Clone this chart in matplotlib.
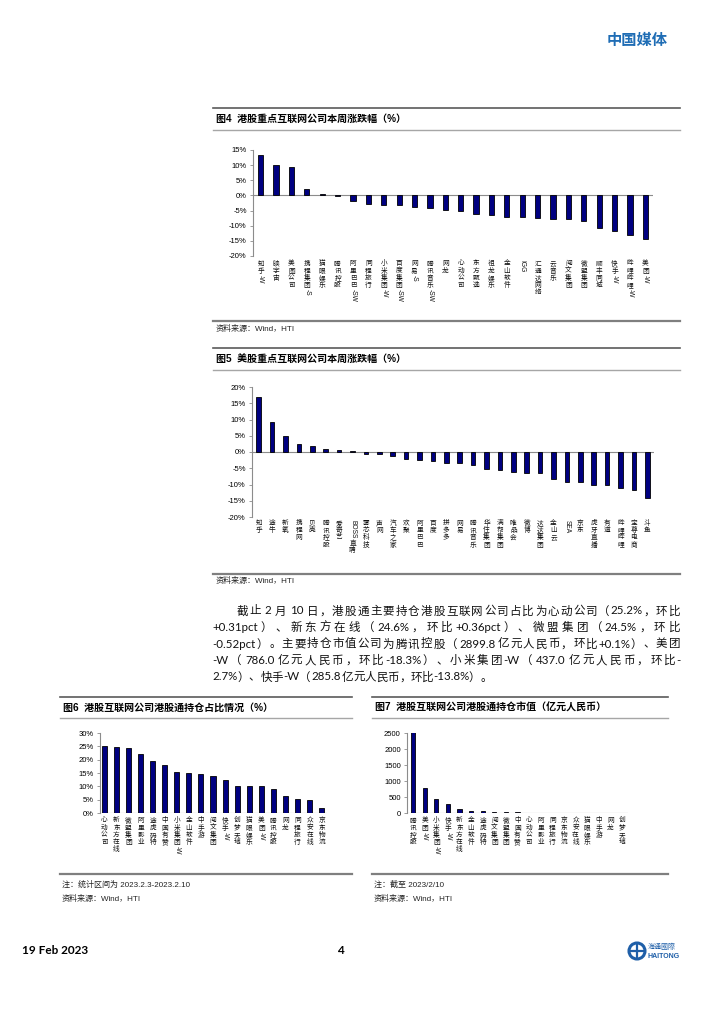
import re
import matplotlib
matplotlib.use("Agg")
import matplotlib.pyplot as plt
from matplotlib.transforms import blended_transform_factory
from matplotlib.textpath import TextPath
from matplotlib.font_manager import FontProperties
from matplotlib.patches import Circle

# ---------------- data ----------------
hk_names = ["知乎-W", "映宇宙", "美图公司", "携程集团-S", "猫眼娱乐", "腾讯控股", "阿里巴巴-SW",
            "同程旅行", "小米集团-W", "百度集团-SW", "网易-S", "腾讯音乐-SW", "网龙", "心动公司",
            "东方甄选", "祖龙娱乐", "金山软件", "IGG", "汇通达网络", "云音乐", "阅文集团", "微盟集团",
            "顺丰同城", "快手-W", "哔哩哔哩-W", "美团-W"]
hk_chg = [13.5, 10.0, 9.5, 2.0, 0.5, -0.3, -1.8, -2.7, -3.0, -3.1, -3.8, -4.0, -4.8, -5.0, -6.0,
          -6.4, -7.0, -7.0, -7.4, -7.9, -7.9, -8.6, -10.6, -11.6, -13.0, -14.5]

us_names = ["知乎", "途牛", "新氧", "携程网", "贝壳", "腾讯控股", "爱奇艺", "BOSS直聘", "雾芯科技", "声网",
            "汽车之家", "欢聚", "阿里巴巴", "百度", "拼多多", "网易", "腾讯音乐", "华住集团", "满帮集团",
            "唯品会", "微博", "达达集团", "金山云", "SEA", "京东", "虎牙直播", "有道", "哔哩哔哩",
            "宝尊电商", "斗鱼"]
us_chg = [16.8, 9.3, 5.0, 2.5, 1.7, 0.8, 0.6, 0.2, -0.5, -0.5, -1.3, -2.0, -2.6, -2.9, -3.4, -3.5,
          -3.9, -5.2, -5.6, -6.0, -6.4, -6.6, -8.4, -9.2, -9.3, -10.1, -10.1, -11.2, -11.8, -14.3]

share_names = ["心动公司", "新东方在线", "微盟集团", "阿里影业", "途虎码特", "中国有赞", "小米集团-W",
               "金山软件", "中手游", "阅文集团", "快手-W", "创梦天地", "猫眼娱乐", "美团-W", "腾讯控股",
               "网龙", "同程旅行", "众安在线", "京东物流"]
share_pct = [25.2, 24.6, 24.5, 22.0, 19.5, 18.0, 15.5, 15.0, 14.6, 13.8, 12.5, 10.2, 10.2, 10.0,
             9.0, 6.2, 5.1, 4.7, 1.9]

value_names = ["腾讯控股", "美团-W", "小米集团-W", "快手-W", "新东方在线", "金山软件", "途虎码特",
               "阅文集团", "微盟集团", "中国有赞", "心动公司", "阿里影业", "同程旅行", "京东物流",
               "众安在线", "猫眼娱乐", "中手游", "网龙", "创梦天地"]
value_bn = [2899.8, 786.0, 437.0, 285.8, 140.0, 60.0, 55.0, 45.0, 40.0, 35.0, 10.0, 8.0, 7.0, 6.0,
            5.0, 5.0, 4.0, 3.0, 3.0]

para_lines = [
    "截止 2 月 10 日，港股通主要持仓港股互联网公司占比为心动公司（25.2%，环比",
    "+0.31pct）、新东方在线（24.6%，环比+0.36pct）、微盟集团（24.5%，环比",
    "-0.52pct）。主要持仓市值公司为腾讯控股（2899.8 亿元人民币，环比+0.1%）、美团",
    "-W（786.0 亿元人民币，环比-18.3%）、小米集团-W（437.0 亿元人民币，环比-",
    "2.7%）、快手-W（285.8 亿元人民币，环比-13.8%）。",
]

# ---------------- setup ----------------
W, H = 725, 1024
CJK = "Noto Sans CJK SC"
LAT = "Liberation Sans"
plt.rcParams['font.family'] = [LAT, CJK]
fig = plt.figure(figsize=(W / 100, H / 100), dpi=100)
bg = fig.add_axes([0, 0, 1, 1], zorder=0)
bg.set_xlim(0, W)
bg.set_ylim(H, 0)
bg.axis("off")

NAVY = "#000080"


def rect(x0, y0, x1, y1):
    return [x0 / W, 1 - y1 / H, (x1 - x0) / W, (y1 - y0) / H]


def is_cjk(ch):
    return ('\u4e00' <= ch <= '\u9fff') or ('\u3000' <= ch <= '\u303f') or ('\uff00' <= ch <= '\uffef')


def tok_width(s, family, size):
    tp = TextPath((0, 0), s, size=size, prop=FontProperties(family=family))
    return tp.get_extents().width


def vlabel(ax, x, label, fs, gap=2.5, step=1.08):
    tr = blended_transform_factory(ax.transData, ax.transAxes)
    runs = re.findall(r'[\u4e00-\u9fff]|[^\u4e00-\u9fff]+', label)
    y = -gap
    for r in runs:
        if is_cjk(r[0]):
            ax.annotate(r, xy=(x, 0), xycoords=tr, xytext=(0, y), textcoords="offset points",
                        ha="center", va="top", fontsize=fs, family=CJK, annotation_clip=False,
                        color="#111111")
            y -= fs * step
        else:
            w = tok_width(r, LAT, fs)
            ax.annotate(r, xy=(x, 0), xycoords=tr, xytext=(0, y - fs * 0.1), textcoords="offset points",
                        ha="center", va="top", rotation=270, fontsize=fs, family=LAT,
                        annotation_clip=False, color="#111111")
            y -= w + fs * 0.35


def style_axes(ax, yticks, fmt, fs):
    for s in ["top", "right", "bottom"]:
        ax.spines[s].set_visible(False)
    ax.spines["left"].set_color("#8c8c8c")
    ax.spines["left"].set_linewidth(0.8)
    ax.set_xticks([])
    ax.set_yticks(yticks)
    ax.set_yticklabels([fmt(v) for v in yticks], fontsize=fs, family=LAT)
    ax.tick_params(axis="y", length=2.5, width=0.6, color="#8c8c8c", pad=2)
    ax.axhline(0, color="#8c8c8c", lw=0.8, zorder=1)
    ax.patch.set_alpha(0)


def bars(ax, vals, width):
    ax.bar(range(len(vals)), vals, width=width, color=NAVY, edgecolor="black", linewidth=0.6, zorder=2)


# ---------------- header ----------------
bg.text(668, 40, "中国媒体", family=CJK, fontsize=11, fontweight="bold", color="#1f6db5",
        ha="right", va="center")


def block_frame(x0, x1, ytop, ytitle, yunder, ybot, title):
    bg.plot([x0, x1], [ytop, ytop], color="#5a5a5a", lw=1.2)
    bg.plot([x0, x1], [yunder, yunder], color="#a6a6a6", lw=1.0)
    bg.plot([x0, x1], [ybot, ybot], color="#7f7f7f", lw=1.6)
    bg.text(x0 + 3, ytitle, title, family=[LAT, CJK], fontsize=7.2, fontweight="bold",
            ha="left", va="center")


# ---------------- figure 4 ----------------
block_frame(213, 680, 108, 119, 130, 321, "图4  港股重点互联网公司本周涨跌幅（%）")
bg.text(216, 329, "资料来源：Wind，HTI", family=[LAT, CJK], fontsize=5.8, ha="left", va="center",
        color="#222222")
ax4 = fig.add_axes(rect(253, 150, 653, 256))
bars(ax4, hk_chg, 0.34)
ax4.set_xlim(-0.5, len(hk_chg) - 0.5)
ax4.set_ylim(-20, 15)
style_axes(ax4, list(range(-20, 16, 5)), lambda v: f"{v}%", 5.5)
for i, n in enumerate(hk_names):
    vlabel(ax4, i, n, 4.8)

# ---------------- figure 5 ----------------
block_frame(213, 680, 348, 359, 370, 574, "图5  美股重点互联网公司本周涨跌幅（%）")
bg.text(216, 581, "资料来源：Wind，HTI", family=[LAT, CJK], fontsize=5.8, ha="left", va="center",
        color="#222222")
ax5 = fig.add_axes(rect(252, 387, 654, 517))
bars(ax5, us_chg, 0.34)
ax5.set_xlim(-0.5, len(us_chg) - 0.5)
ax5.set_ylim(-20, 20)
style_axes(ax5, list(range(-20, 21, 5)), lambda v: f"{v}%", 5.5)
for i, n in enumerate(us_names):
    vlabel(ax5, i, n, 4.8, gap=1.5)

# ---------------- paragraph ----------------
PFS = 8.3
para_y = [611, 627.5, 644, 660.5, 677]


def draw_line(text, x0, x1, y, justify):
    toks = re.findall(r'[\u4e00-\u9fff\u3000-\u303f\uff00-\uffef]|[^\u4e00-\u9fff\u3000-\u303f\uff00-\uffef]+', text)
    info = []
    for t in toks:
        fam = CJK if is_cjk(t[0]) else "Lato"
        if fam == CJK:
            w = PFS * 100 / 72
        else:
            w = tok_width(t, fam, PFS) * 100 / 72
            if t.startswith(" "):
                w += PFS * 0.25 * 100 / 72
            if t.endswith(" "):
                w += PFS * 0.25 * 100 / 72
        info.append((t, fam, w))
    total = sum(w for _, _, w in info)
    extra = 0
    if justify and len(info) > 1:
        extra = (x1 - x0 - total) / (len(info) - 1)
    x = x0
    for t, fam, w in info:
        bg.text(x + w / 2, y, t.strip(), family=fam, fontsize=PFS, ha="center", va="center",
                color="#111111")
        x += w + extra


for k, line in enumerate(para_lines):
    xs = 237 if k == 0 else 213
    draw_line(line, xs, 680, para_y[k], justify=(k < len(para_lines) - 1))

# ---------------- figure 6 ----------------
block_frame(60, 352, 697, 708, 718, 874, "图6  港股互联网公司港股通持仓占比情况（%）")
bg.text(62, 885, "注：统计区间为 2023.2.3-2023.2.10", family=[LAT, CJK], fontsize=5.8, ha="left",
        va="center", color="#222222")
bg.text(62, 899, "资料来源：Wind，HTI", family=[LAT, CJK], fontsize=5.8, ha="left", va="center",
        color="#222222")
ax6 = fig.add_axes(rect(100, 733, 327, 813))
bars(ax6, share_pct, 0.42)
ax6.set_xlim(-0.36, len(share_pct) - 1 + 0.44)
ax6.set_ylim(0, 30)
style_axes(ax6, list(range(0, 31, 5)), lambda v: f"{v}%", 5.5)
for i, n in enumerate(share_names):
    vlabel(ax6, i, n, 4.8)

# ---------------- figure 7 ----------------
block_frame(372, 668, 697, 708, 718, 874, "图7  港股互联网公司港股通持仓市值（亿元人民币）")
bg.text(374, 885, "注：截至 2023/2/10", family=[LAT, CJK], fontsize=5.8, ha="left", va="center",
        color="#222222")
bg.text(374, 899, "资料来源：Wind，HTI", family=[LAT, CJK], fontsize=5.8, ha="left", va="center",
        color="#222222")
ax7 = fig.add_axes(rect(407, 733, 628, 813))
bars(ax7, value_bn, 0.36)
ax7.set_xlim(-0.52, len(value_bn) - 1 + 0.52)
ax7.set_ylim(0, 2500)
style_axes(ax7, list(range(0, 2501, 500)), lambda v: f"{v}", 5.5)
for i, n in enumerate(value_names):
    vlabel(ax7, i, n, 4.8)

# ---------------- footer ----------------
bg.text(22, 951, "19 Feb 2023", family="Lato", fontsize=8.5, fontweight="bold", ha="left", va="center")
bg.text(340, 951, "4", family="Lato", fontsize=8.5, fontweight="bold", ha="center", va="center")
bg.add_patch(Circle((637, 951), 8, facecolor="white", edgecolor="#1f5fa8", lw=2.2))
bg.plot([631, 643], [951, 951], color="#1f5fa8", lw=1.6)
bg.plot([637, 637], [944, 958], color="#1f5fa8", lw=1.6)
bg.text(648, 947, "海通國際", family=CJK, fontsize=5, color="#1f5fa8", ha="left", va="center")
bg.text(648, 956, "HAITONG", family=LAT, fontsize=5, fontweight="bold", color="#1f5fa8",
        ha="left", va="center")

fig.savefig("out.png", dpi=100)
